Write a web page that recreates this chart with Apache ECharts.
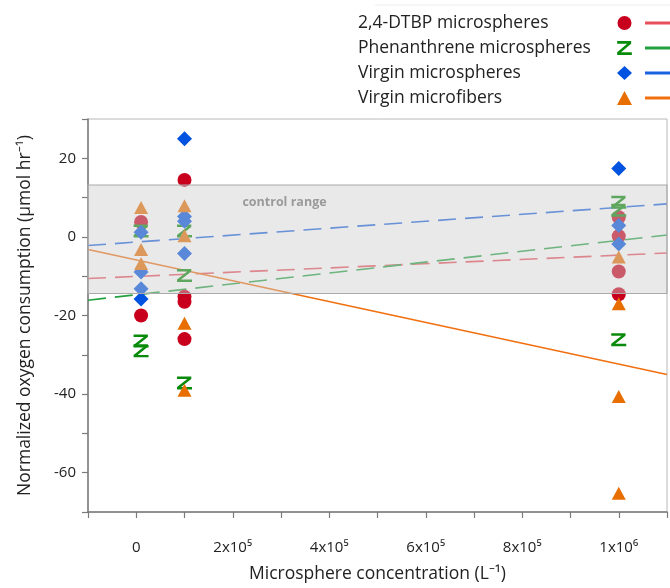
<!DOCTYPE html>
<html>
<head>
<meta charset="utf-8">
<script src="https://cdn.jsdelivr.net/npm/echarts@6/dist/echarts.min.js"></script>
<style>
html,body{margin:0;padding:0;background:#fff;}
#chart{width:670px;height:588px;}
</style>
</head>
<body>
<div id="chart"></div>
<script>
// ---- data ----
const seriesNames = ['2,4-DTBP microspheres', 'Phenanthrene microspheres', 'Virgin microspheres', 'Virgin microfibers'];

const dtbpPoints = [[1e4, 3.8], [1e4, -20], [1e5, 14.5], [1e5, -15.2], [1e5, -16.5], [1e5, -26], [1e6, 5], [1e6, 0.2], [1e6, -8.8], [1e6, -14.6]];
const phenPoints = [[1e4, 1.5], [1e4, -26.5], [1e4, -29], [1e5, 1.5], [1e5, -9.8], [1e5, -37.2], [1e6, 8.8], [1e6, 6.8], [1e6, -26.2]];
const virginSpherePoints = [[1e4, 1.2], [1e4, -8.9], [1e4, -13.2], [1e4, -15.8], [1e5, 25], [1e5, 5.2], [1e5, 4], [1e5, -4.2], [1e6, 17.4], [1e6, 2.9], [1e6, -1.8]];
const virginFiberPoints = [[1e4, 7.5], [1e4, -3.2], [1e4, -6.8], [1e5, 7.9], [1e5, 0.3], [1e5, -22], [1e5, -39], [1e6, -5.1], [1e6, -17], [1e6, -40.6], [1e6, -65.2]];

// fitted trend lines (end points read at the plot edges)
const dtbpFit = [[-1e5, -10.6], [1.1e6, -4.1]];
const phenFit = [[-1e5, -16.1], [1.1e6, 0.5]];
const virginSphereFit = [[-1e5, -2.2], [1.1e6, 8.4]];
const virginFiberFit = [[-1e5, -3.2], [1.1e6, -35]];

const controlRange = [13.2, -14.4];

const xTickValues = [0, 2e5, 4e5, 6e5, 8e5, 1e6];
const xTickLabels = ['0', '2x10\u2075', '4x10\u2075', '6x10\u2075', '8x10\u2075', '1x10\u2076'];
const yTickValues = [20, 0, -20, -40, -60];
const yTickLabels = ['20', '0', '-20', '-40', '-60'];

// ---- styling ----
const FONT = 'Open Sans';
const markerColors = ['#c8001e', '#0a8a0a', '#0052e0', '#e86e00'];
const lineColors = ['#e8505c', '#22a040', '#1a62e0', '#f07010'];
const zPath = 'path://M0,0 L12,0 L12,2.3 L3.4,9.7 L12.6,9.7 L12.6,12 L0,12 L0,9.7 L8.6,2.3 L0,2.3 Z';
const symbols = ['circle', zPath, 'diamond', 'triangle'];
const symbolSizes = [14, [15, 13], 15, [14, 13]];
const pointSets = [dtbpPoints, phenPoints, virginSpherePoints, virginFiberPoints];
const fitSets = [dtbpFit, phenFit, virginSphereFit, virginFiberFit];
const fitNames = seriesNames.map(n => n + ' fit');

const chart = echarts.init(document.getElementById('chart'), null, {renderer: 'canvas'});

const series = [];
fitSets.forEach((d, i) => {
  series.push({
    name: fitNames[i],
    type: 'line',
    data: d,
    z: 1,
    symbol: 'none',
    color: lineColors[i],
    lineStyle: {color: lineColors[i], width: 1.6, type: i === 3 ? 'solid' : [18, 9]},
    silent: true
  });
});
pointSets.forEach((d, i) => {
  series.push({
    name: seriesNames[i],
    type: 'scatter',
    data: d,
    z: 2,
    symbol: symbols[i],
    symbolSize: symbolSizes[i],
    itemStyle: {color: markerColors[i], opacity: 1},
    color: markerColors[i]
  });
});
series.push({
  name: 'control',
  type: 'line',
  data: [],
  markArea: {
    z: 10,
    silent: true,
    itemStyle: {color: 'rgba(204,204,204,0.44)', borderColor: '#aaaaaa', borderWidth: 1.2},
    label: {
      show: true,
      position: [155, 12],
      color: '#9a9a9a',
      fontFamily: FONT,
      fontWeight: 'bold',
      fontSize: 12.5,
      formatter: 'control range'
    },
    data: [[{yAxis: controlRange[0]}, {yAxis: controlRange[1]}]]
  }
});

const legendText = {fontFamily: FONT, fontSize: 17.5, color: '#222', lineHeight: 18};

const option = {
  animation: false,
  backgroundColor: '#fff',
  grid: {left: 88, right: -1, top: 119, bottom: 73, show: true, borderColor: '#b8b8b8', borderWidth: 1},
  legend: [
    {
      data: seriesNames, orient: 'vertical', left: 348, top: 9, itemGap: 7,
      itemWidth: 0, itemHeight: 14, icon: 'rect', itemStyle: {color: 'rgba(0,0,0,0)', opacity: 0},
      textStyle: legendText, selectedMode: false
    },
    {
      data: seriesNames, orient: 'vertical', left: 612, top: 9, itemGap: 7,
      itemWidth: 15, itemHeight: 14, formatter: () => ' ',
      textStyle: legendText, selectedMode: false
    },
    {
      data: fitNames, orient: 'vertical', left: 640, top: 9, itemGap: 7,
      itemWidth: 28, itemHeight: 3, icon: 'rect', formatter: () => ' ',
      textStyle: legendText, selectedMode: false
    }
  ],
  xAxis: {
    type: 'value', min: -1e5, max: 1.1e6, interval: 1e5,
    name: 'Microsphere concentration (L\u207B\u00B9)', nameLocation: 'middle', nameGap: 53,
    nameTextStyle: {fontFamily: FONT, fontSize: 17.5, color: '#222'},
    axisLine: {show: true, onZero: false, lineStyle: {color: '#7a7a7a', width: 1.5}},
    axisTick: {show: true, length: 6, lineStyle: {color: '#7a7a7a', width: 1.2}},
    splitLine: {show: false},
    axisLabel: {
      interval: 0, margin: 28, fontFamily: FONT, fontSize: 15, color: '#222',
      formatter: v => { const k = xTickValues.findIndex(t => Math.abs(t - v) < 1); return k >= 0 ? xTickLabels[k] : ''; }
    }
  },
  yAxis: {
    type: 'value', min: -70, max: 30, interval: 10,
    name: 'Normalized oxygen consumption (\u00B5mol hr\u207B\u00B9)', nameLocation: 'middle', nameGap: 54,
    nameTextStyle: {fontFamily: FONT, fontSize: 17.5, color: '#222'},
    axisLine: {show: true, onZero: false, lineStyle: {color: '#7a7a7a', width: 1.5}},
    axisTick: {show: true, length: 6, lineStyle: {color: '#7a7a7a', width: 1.2}},
    splitLine: {show: false},
    axisLabel: {
      interval: 0, margin: 12, fontFamily: FONT, fontSize: 15, color: '#222',
      formatter: v => { const k = yTickValues.findIndex(t => Math.abs(t - v) < 1e-6); return k >= 0 ? yTickLabels[k] : ''; }
    }
  },
  graphic: [
    {type: 'line', shape: {x1: 375, y1: 5, x2: 670, y2: 5}, style: {stroke: '#ececec', lineWidth: 1}, silent: true}
  ],
  series: series
};
chart.setOption(option);
</script>
</body>
</html>
